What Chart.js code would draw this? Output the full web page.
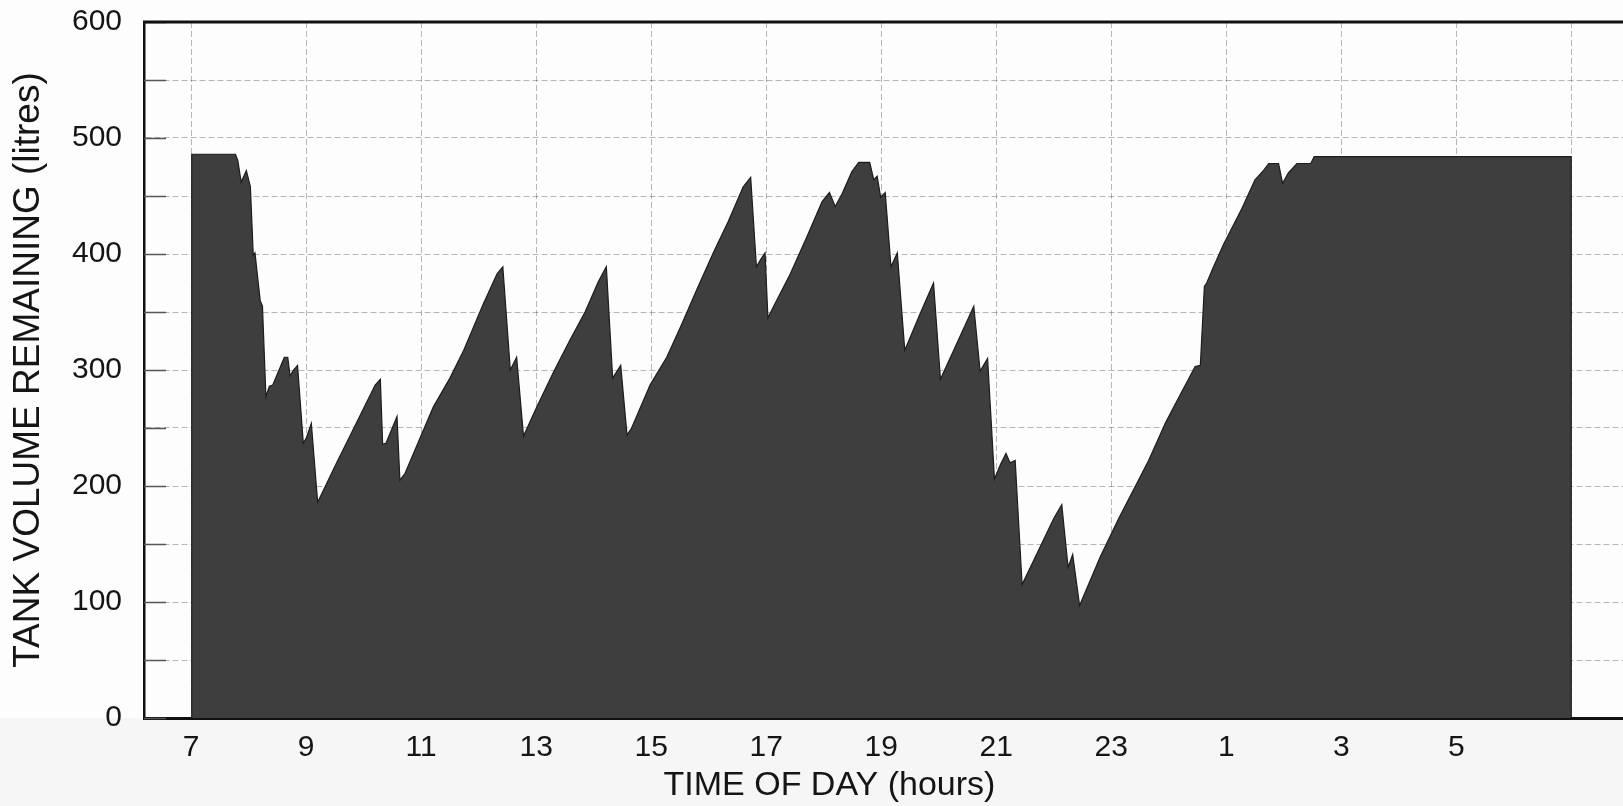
<!DOCTYPE html>
<html>
<head>
<meta charset="utf-8">
<title>Tank volume remaining</title>
<script src="https://cdn.jsdelivr.net/npm/chart.js@4.4.1/dist/chart.umd.min.js"></script>
<style>
  html, body { margin: 0; padding: 0; background: #f6f6f6; }
  #wrap { width: 1623px; height: 806px; }
</style>
</head>
<body>
<div id="wrap"><canvas id="tank" width="1623" height="806"></canvas></div>
<script>
// time of day in hours (7 = 7am, 25 = 1am next day, 31 = 7am next day)
const hours = [
  7.00, 7.01, 7.77, 7.81, 7.87, 7.96, 8.03, 8.08, 8.11, 8.20,
  8.24, 8.30, 8.36, 8.42, 8.62, 8.68, 8.72, 8.78, 8.85, 8.95,
  9.00, 9.09, 9.20, 9.53, 9.74, 10.00, 10.20, 10.29, 10.33, 10.39,
  10.58, 10.63, 10.72, 11.21, 11.50, 11.74, 12.08, 12.32, 12.42, 12.55,
  12.66, 12.78, 13.01, 13.30, 13.59, 13.85, 14.08, 14.22, 14.33, 14.47,
  14.58, 14.65, 14.98, 15.27, 15.50, 15.79, 16.08, 16.34, 16.60, 16.73,
  16.83, 16.90, 16.98, 17.03, 17.13, 17.42, 17.71, 17.97, 18.10, 18.20,
  18.32, 18.49, 18.61, 18.80, 18.87, 18.93, 18.99, 19.07, 19.17, 19.28,
  19.41, 19.68, 19.91, 20.03, 20.38, 20.61, 20.72, 20.85, 20.97, 21.07,
  21.17, 21.24, 21.33, 21.45, 21.77, 22.00, 22.14, 22.25, 22.33, 22.45,
  22.81, 23.13, 23.65, 23.94, 24.14, 24.46, 24.55, 24.62, 24.66, 24.77,
  24.95, 25.27, 25.50, 25.65, 25.74, 25.91, 25.98, 26.08, 26.23, 26.47,
  26.53, 31.00, 31.00
];

// litres left in the tank at each time
const litres = [
  0, 486, 486, 481, 462, 472, 458, 399, 401, 360,
  355, 277, 286, 287, 311, 311, 295, 300, 304, 237,
  241, 254, 186, 220, 241, 267, 287, 292, 236, 237,
  260, 205, 211, 268, 293, 317, 357, 383, 389, 300,
  311, 243, 268, 298, 326, 350, 376, 389, 293, 304,
  244, 249, 287, 311, 336, 369, 401, 428, 458, 466,
  389, 395, 401, 345, 355, 383, 415, 445, 453, 441,
  452, 471, 479, 479, 464, 467, 449, 453, 389, 401,
  317, 349, 375, 292, 330, 355, 299, 310, 206, 218,
  228, 220, 222, 115, 148, 172, 184, 130, 141, 97,
  139, 172, 222, 254, 273, 303, 304, 372, 375, 388,
  408, 439, 464, 472, 478, 478, 461, 470, 478, 478,
  484, 484, 0
];

// tick positions on the time axis (labels wrap past midnight)
const hourTicks = [7, 9, 11, 13, 15, 17, 19, 21, 23, 25, 27, 29, 31];
const unlabelledHours = [31];

const FONT = '"Liberation Sans", Arial, Helvetica, sans-serif';

const points = hours.map((h, i) => ({ x: h, y: litres[i] }));

const paperPlugin = {
  id: 'paper',
  beforeDraw(chart) {
    const { ctx, chartArea } = chart;
    ctx.save();
    ctx.fillStyle = '#f6f6f6';
    ctx.fillRect(0, 0, chart.width, chart.height);
    ctx.fillStyle = '#fdfdfd';
    ctx.fillRect(0, 0, chart.width, chartArea.bottom);
    ctx.restore();
  },
  afterDraw(chart) {
    const { ctx, chartArea } = chart;
    const y = chart.scales.y;
    const x = chart.scales.x;
    ctx.save();
    // short inner ticks on the left axis
    ctx.strokeStyle = '#555';
    ctx.lineWidth = 1.5;
    y.ticks.forEach(t => {
      const py = Math.round(y.getPixelForValue(t.value)) + 0.5;
      ctx.beginPath();
      ctx.moveTo(chartArea.left, py);
      ctx.lineTo(chartArea.left + 22, py);
      ctx.stroke();
    });
    // top frame line
    ctx.strokeStyle = '#111';
    ctx.lineWidth = 3;
    ctx.beginPath();
    ctx.moveTo(chartArea.left - 1, chartArea.top);
    ctx.lineTo(chartArea.right, chartArea.top);
    ctx.stroke();
    // x axis title
    ctx.fillStyle = '#151515';
    ctx.font = '34px ' + FONT;
    ctx.textAlign = 'center';
    ctx.textBaseline = 'middle';
    ctx.fillText('TIME OF DAY (hours)', x.getPixelForValue(18.1), chartArea.bottom + 68);
    ctx.restore();
  }
};

new Chart(document.getElementById('tank'), {
  type: 'line',
  data: {
    datasets: [{
      label: 'Tank volume',
      data: points,
      fill: 'origin',
      backgroundColor: '#3e3e3e',
      borderColor: '#1c1c1c',
      borderWidth: 1.2,
      pointRadius: 0,
      tension: 0
    }]
  },
  options: {
    responsive: false,
    animation: false,
    devicePixelRatio: 1,
    layout: { padding: { top: 22, right: 0, bottom: 0, left: 0 } },
    plugins: {
      legend: { display: false },
      tooltip: { enabled: false }
    },
    scales: {
      x: {
        type: 'linear',
        min: 6.18,
        max: 31.9,
        afterFit: s => { s.height = 88; s.paddingLeft = 0; s.paddingRight = 0; },
        afterBuildTicks: s => { s.ticks = hourTicks.map(v => ({ value: v })); },
        ticks: {
          autoSkip: false,
          maxRotation: 0,
          padding: 12,
          color: '#151515',
          font: { family: FONT, size: 30 },
          callback: v => unlabelledHours.includes(v) ? '' : (v > 24 ? v - 24 : v)
        },
        grid: {
          drawTicks: false,
          color: 'rgba(0,0,0,0.28)',
          lineWidth: 1
        },
        border: { display: true, color: '#111', width: 3, dash: [6, 3] }
      },
      y: {
        min: 0,
        max: 600,
        afterFit: s => { s.width = 144; s.paddingTop = 0; s.paddingBottom = 0; },
        ticks: {
          stepSize: 50,
          padding: 22,
          color: '#151515',
          font: { family: FONT, size: 30 },
          callback: v => v % 100 === 0 ? v : ''
        },
        grid: {
          drawTicks: false,
          color: 'rgba(0,0,0,0.28)',
          lineWidth: 1
        },
        border: { display: true, color: '#111', width: 2.5, dash: [6, 3] },
        title: {
          display: true,
          text: 'TANK VOLUME REMAINING (litres)',
          color: '#151515',
          font: { family: FONT, size: 37, lineHeight: 1 },
          padding: { top: 10, bottom: 0 }
        }
      }
    }
  },
  plugins: [paperPlugin]
});
</script>
</body>
</html>
